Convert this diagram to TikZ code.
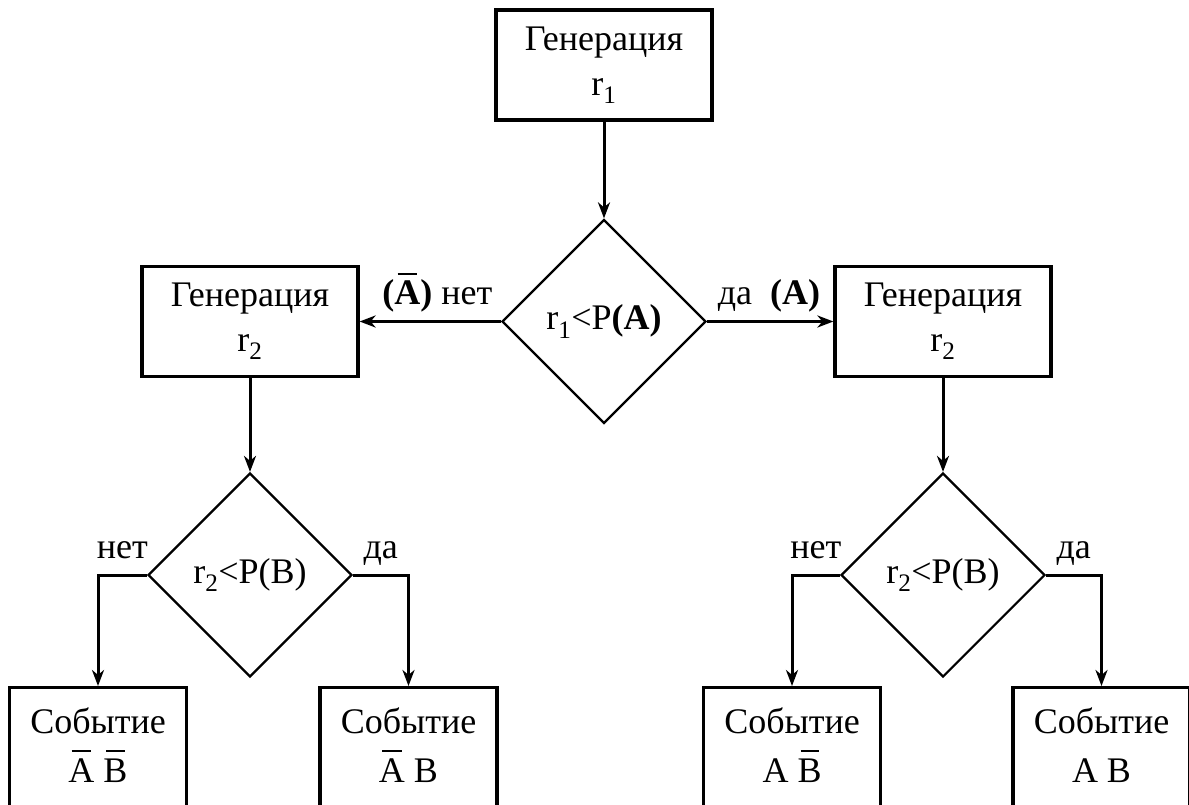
\documentclass[tikz,border=0pt]{standalone}
\usepackage{fontspec}
\setmainfont{Liberation Serif}
\usetikzlibrary{shapes.geometric,arrows.meta}
% letter with a short bar over it (complement of an event)
\newcommand\ovl[1]{\leavevmode\setbox0\hbox{#1}%
  \hbox{\rlap{\hbox to \wd0{\hss\rule[0.83em]{0.75\wd0}{0.055em}\hss}}\box0}}
\begin{document}
\begin{tikzpicture}[x=1pt,y=-1pt,
  every node/.style={font=\fontsize{36}{45}\selectfont},
  box/.style={draw, line width=3.2pt, rectangle, minimum width=216pt,
    minimum height=110pt, align=center, inner sep=0pt},
  evbox/.style={draw, line width=3.2pt, rectangle, minimum width=177pt,
    minimum height=200pt, anchor=north, inner sep=0pt},
  evtext/.style={align=center, inner sep=0pt, font=\fontsize{36}{49}\selectfont},
  cond/.style={draw, line width=2.2pt, diamond, aspect=1, minimum width=204pt,
    minimum height=204pt, inner sep=0pt},
  arr/.style={line width=3pt, -{Stealth[length=16pt,width=12pt,inset=5pt]}},
  lbl/.style={anchor=base, yshift=17pt, inner sep=0pt}
]
\useasboundingbox (0,0) rectangle (1189,805);
\clip (0,0) rectangle (1189,805);

% first draw
\node[box] (g1) at (604,65) {Генерация\\r\textsubscript{1}};
\node[cond] (d1) at (604,321.5) {r\textsubscript{1}<P\textbf{(A)}};

% second draws
\node[box] (g2) at (250,321.5) {Генерация\\r\textsubscript{2}};
\node[box] (g3) at (943,321.5) {Генерация\\r\textsubscript{2}};
\node[cond] (d2) at (250,575) {r\textsubscript{2}<P(B)};
\node[cond] (d3) at (943,575) {r\textsubscript{2}<P(B)};

% outcome boxes
\node[evbox] (e1) at (98,686) {};
\node[evbox] (e2) at (408.5,686) {};
\node[evbox] (e3) at (792,686) {};
\node[evbox] (e4) at (1101.5,686) {};
\node[evtext] (e1t) at (98,745) {Событие\\\ovl{A} \ovl{B}};
\node[evtext] (e2t) at (408.5,745) {Событие\\\ovl{A} B};
\node[evtext] (e3t) at (792,745) {Событие\\A \ovl{B}};
\node[evtext] (e4t) at (1101.5,745) {Событие\\A B};

% connectors
\draw[arr] (g1) -- (d1);
\draw[arr] (d1.west) -- node[lbl, pos=0.45] {\textbf{(\ovl{A})} нет} (g2.east);
\draw[arr] (d1.east) -- node[lbl, pos=0.49] {да\ \ \textbf{(A)}} (g3.west);
\draw[arr] (g2) -- (d2);
\draw[arr] (g3) -- (d3);
\draw[arr] (d2.west) -| node[lbl, pos=0.25] {нет} (e1.north);
\draw[arr] (d2.east) -| node[lbl, pos=0.25] {да} (e2.north);
\draw[arr] (d3.west) -| node[lbl, pos=0.25] {нет} (e3.north);
\draw[arr] (d3.east) -| node[lbl, pos=0.25] {да} (e4.north);
\end{tikzpicture}
\end{document}
